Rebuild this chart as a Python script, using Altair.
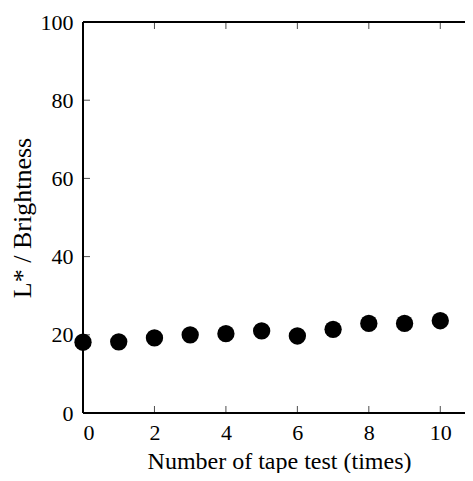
import altair as alt
import pandas as pd

tests = [0, 1, 2, 3, 4, 5, 6, 7, 8, 9, 10]
brightness = [18.1, 18.2, 19.2, 20.0, 20.3, 21.0, 19.7, 21.4, 22.9, 22.9, 23.6]
x_ticks = [0, 2, 4, 6, 8, 10]
y_ticks = [0, 20, 40, 60, 80, 100]
x_max = 11
y_max = 100

df = pd.DataFrame({"n": tests, "L": brightness})
xt = pd.DataFrame({"n": x_ticks})
yt = pd.DataFrame({"L": y_ticks})
frame_h = pd.DataFrame({"x0": [0, 0], "x1": [x_max, x_max], "y": [0, y_max]})
frame_v = pd.DataFrame({"x": [0], "y0": [0], "y1": [y_max]})

FONT = "Liberation Serif"
xs = alt.Scale(domain=[0, x_max], nice=False, zero=True, range=[0, 393])
ys = alt.Scale(domain=[0, y_max], nice=False, zero=True)

x_axis = alt.Axis(values=x_ticks, title="Number of tape test (times)", grid=False,
                  ticks=False, tickSize=0, domain=False, labelPadding=9,
                  titlePadding=6, labelFontSize=22, titleFontSize=24,
                  labelFont=FONT, titleFont=FONT, labelColor="black",
                  titleColor="black", titleFontWeight="normal",
                  titleX=196, titleAnchor="middle")
y_axis = alt.Axis(values=y_ticks, title="L* / Brightness", grid=False,
                  ticks=False, tickSize=0, domain=False, labelPadding=10,
                  titlePadding=5, labelFontSize=22, titleFontSize=26,
                  labelFont=FONT, titleFont=FONT, labelColor="black",
                  titleColor="black", titleFontWeight="normal")

base_pts = alt.Chart(df).mark_circle(size=300, color="black", opacity=1).encode(
    x=alt.X("n:Q", scale=xs, axis=x_axis),
    y=alt.Y("L:Q", scale=ys, axis=y_axis),
)

hlines = alt.Chart(frame_h).mark_rule(color="black", strokeWidth=2).encode(
    x=alt.X("x0:Q", scale=xs), x2="x1:Q", y=alt.Y("y:Q", scale=ys))
vlines = alt.Chart(frame_v).mark_rule(color="black", strokeWidth=2).encode(
    x=alt.X("x:Q", scale=xs), y=alt.Y("y0:Q", scale=ys), y2="y1:Q")

bottom_ticks = alt.Chart(xt).mark_tick(orient="vertical", size=7, thickness=1,
                                       color="black", yOffset=-3.5).encode(
    x=alt.X("n:Q", scale=xs), y=alt.datum(0, scale=ys))
top_ticks = alt.Chart(xt).mark_tick(orient="vertical", size=7, thickness=1,
                                    color="black", yOffset=3.5).encode(
    x=alt.X("n:Q", scale=xs), y=alt.datum(y_max, scale=ys))
left_ticks = alt.Chart(yt).mark_tick(orient="horizontal", size=7, thickness=1,
                                     color="black", xOffset=3.5).encode(
    y=alt.Y("L:Q", scale=ys), x=alt.datum(0, scale=xs))
right_ticks = alt.Chart(yt).mark_tick(orient="horizontal", size=7, thickness=1,
                                      color="black", xOffset=-3.5).encode(
    y=alt.Y("L:Q", scale=ys), x=alt.datum(x_max, scale=xs))

chart = alt.layer(hlines, vlines, bottom_ticks, top_ticks, left_ticks, right_ticks,
                  base_pts).properties(
    width=370, height=391,
    autosize=alt.AutoSizeParams(type="none"),
    padding={"left": 75, "top": 14, "right": 12, "bottom": 60},
).configure(background="white").configure_view(strokeWidth=0)

chart.save("out.html", embed_options={"renderer": "svg", "actions": False})
